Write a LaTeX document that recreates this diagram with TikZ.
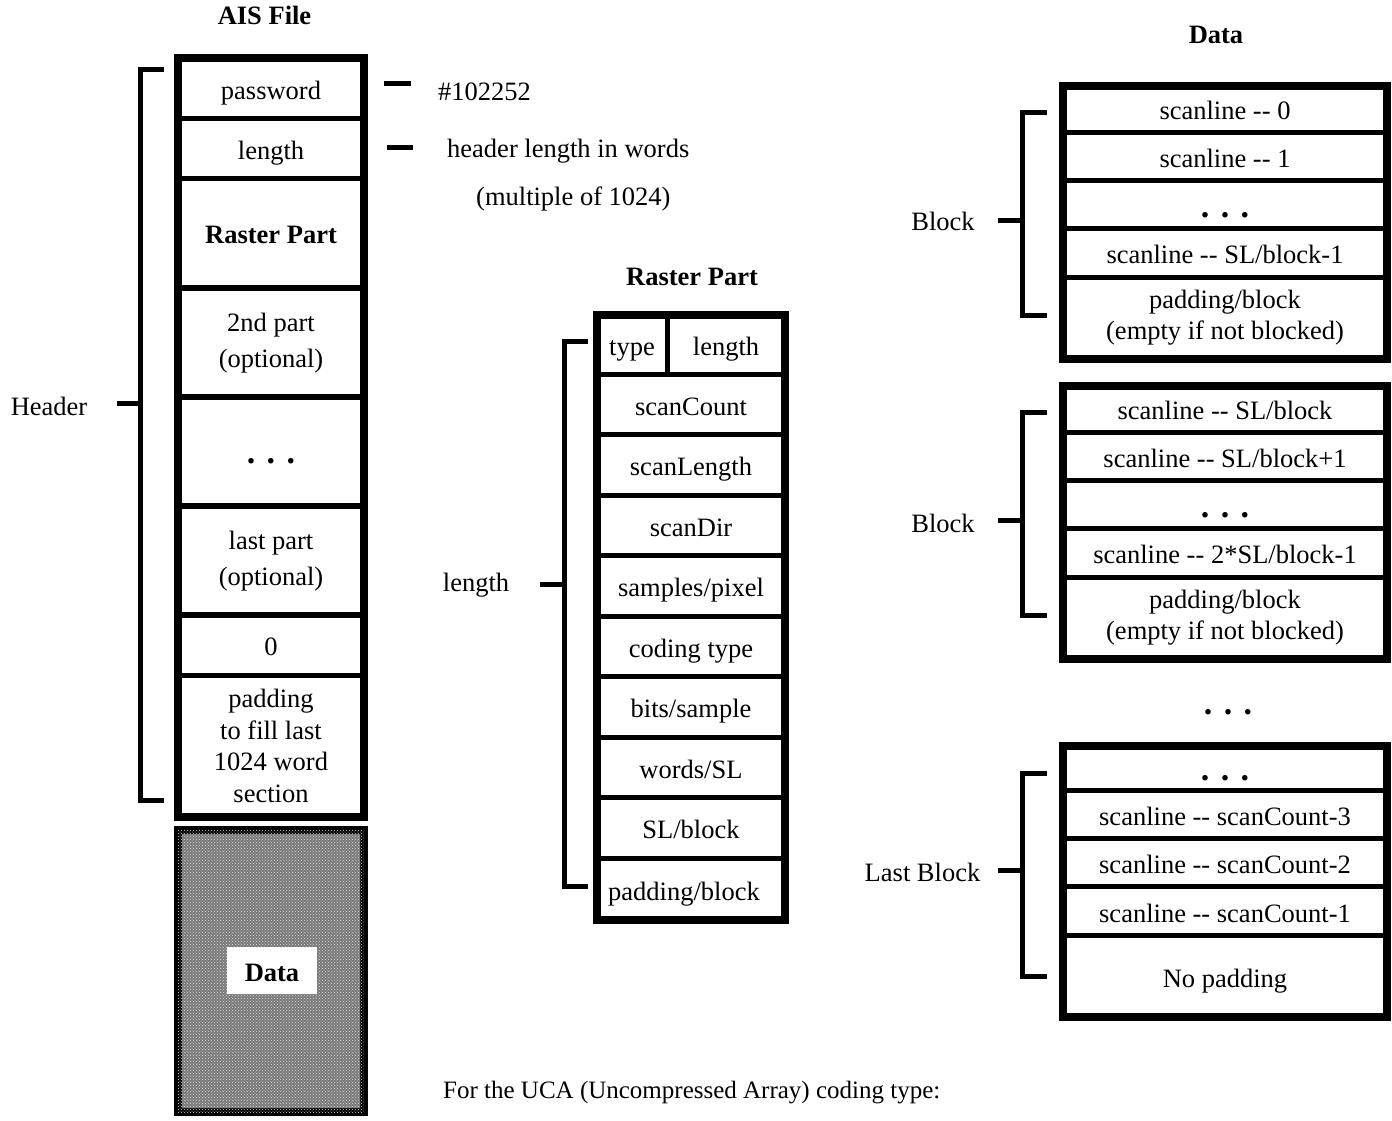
\documentclass[tikz,border=0pt]{standalone}
\usepackage{fontspec}
\setmainfont{Liberation Serif}
\usetikzlibrary{patterns}
\newcommand\mydots{{\fontsize{34}{34}\selectfont\bfseries .\hspace{11.5pt}.\hspace{11.5pt}.}}
\newcommand\dd{-{}-}
\tikzset{
  txt/.style={font=\fontsize{26.5}{32}\selectfont},
  cell/.style={draw, line width=5pt, inner sep=0pt, outer sep=0pt, align=center, txt},
  one/.style={text height=24pt, text depth=2pt},
  dotcell/.style={text height=26pt, text depth=1pt},
  frame/.style={draw, line width=8pt, inner sep=0pt, outer sep=0pt},
  brk/.style={line width=5pt},
  lbl/.style={anchor=base, inner sep=0pt, txt},
  lblw/.style={anchor=base west, inner sep=0pt, txt},
  ttl/.style={anchor=base, inner sep=0pt, font=\fontsize{26.5}{32}\selectfont\bfseries},
}
\begin{document}
\begin{tikzpicture}[x=1pt,y=-1pt]
\useasboundingbox (0,0) rectangle (1392,1120);

% ---------------- AIS file column ----------------
\node[ttl] (aistitle) at (264.5,24) {AIS File};
\node[cell, one, minimum width=186pt, minimum height=60pt] (pw) at (271,88) {password};
\node[cell, one, minimum width=186pt, minimum height=60pt] (len) at (271,148) {length};
\node[cell, one, minimum width=186pt, minimum height=109pt, font=\fontsize{26.5}{32}\selectfont\bfseries] (rp) at (271,232.5) {Raster Part};
\node[cell, minimum width=186pt, minimum height=109pt, font=\fontsize{26.5}{36}\selectfont] (p2) at (271,343) {2nd part\\(optional)};
\node[cell, dotcell, minimum width=186pt, minimum height=109pt] (pd) at (271,450.5) {\mydots};
\node[cell, minimum width=186pt, minimum height=109pt, font=\fontsize{26.5}{36}\selectfont] (pl) at (271,561) {last part\\(optional)};
\node[cell, one, minimum width=186pt, minimum height=61pt] (pz) at (271,644.5) {0};
\node[cell, minimum width=186pt, minimum height=142pt, font=\fontsize{26.5}{31.7}\selectfont] (pp) at (271,746) {padding\\to fill last\\1024 word\\section};
\node[frame, minimum width=186pt, minimum height=759pt] (ais) at (271,437.5) {};

\node[frame, fill=black!52, postaction={pattern=crosshatch dots, pattern color=white!85!black}, minimum width=186pt, minimum height=282pt] (data) at (271,971) {};
\node[fill=white, inner sep=0pt, minimum width=90pt, minimum height=47pt, text height=24pt, text depth=2pt, font=\fontsize{26.5}{32}\selectfont\bfseries] (datalbl) at (272,970.5) {Data};

% header bracket
\coordinate (h1) at (164,69);
\coordinate (h2) at (140,69);
\coordinate (h3) at (140,800);
\coordinate (h4) at (164,800);
\coordinate (ht) at (117,403.5);
\coordinate (hm) at (140,403.5);
\draw[brk] (h1) -- (h2) -- (h3) -- (h4);
\draw[brk] (ht) -- (hm);
\node[lbl] (hdr) at (49,415) {Header};

% dashes and notes
\coordinate (d1a) at (384,83.5);
\coordinate (d1b) at (411,83.5);
\coordinate (d2a) at (387,147.5);
\coordinate (d2b) at (413,147.5);
\draw[brk] (d1a) -- (d1b);
\draw[brk] (d2a) -- (d2b);
\node[lblw] (pwnote) at (438,100.5) {\#102252};
\node[lblw] (lennote) at (447,157) {header length in words};
\node[lblw] (lennote2) at (476,205) {(multiple of 1024)};

% ---------------- Raster Part ----------------
\node[ttl] (rptitle) at (692,285) {Raster Part};
\node[cell, one, minimum width=70pt, minimum height=59pt] (rtype) at (632,344.5) {type};
\node[cell, one, minimum width=118pt, minimum height=59pt] (rlen) at (726,344.5) {length};
\node[cell, one, minimum width=188pt, minimum height=60.5pt] (r1) at (691,404.25) {scanCount};
\node[cell, one, minimum width=188pt, minimum height=60.5pt] (r2) at (691,464.75) {scanLength};
\node[cell, one, minimum width=188pt, minimum height=60.5pt] (r3) at (691,525.25) {scanDir};
\node[cell, one, minimum width=188pt, minimum height=60.5pt] (r4) at (691,585.75) {samples/pixel};
\node[cell, one, minimum width=188pt, minimum height=60.5pt] (r5) at (691,646.25) {coding type};
\node[cell, one, minimum width=188pt, minimum height=60.5pt] (r6) at (691,706.75) {bits/sample};
\node[cell, one, minimum width=188pt, minimum height=60.5pt] (r7) at (691,767.25) {words/SL};
\node[cell, one, minimum width=188pt, minimum height=60.5pt] (r8) at (691,827.75) {SL/block};
\node[cell, one, minimum width=188pt, minimum height=62pt] (r9) at (691,889) {\hspace*{-14pt}padding/block};
\node[frame, minimum width=188pt, minimum height=605pt] (raster) at (691,617.5) {};

\coordinate (r1c) at (588,341);
\coordinate (r2c) at (564,341);
\coordinate (r3c) at (564,886);
\coordinate (r4c) at (588,886);
\coordinate (rtk) at (540,584);
\coordinate (rtm) at (564,584);
\draw[brk] (r1c) -- (r2c) -- (r3c) -- (r4c);
\draw[brk] (rtk) -- (rtm);
\node[lbl] (rlenlbl) at (476,591) {length};

% ---------------- Data blocks ----------------
\node[ttl] (datatitle) at (1216,43) {Data};

% block 1
\node[cell, one, minimum width=324pt, minimum height=46.5pt] (a1) at (1225,108.75) {scanline \dd{} 0};
\node[cell, one, minimum width=324pt, minimum height=48.5pt] (a2) at (1225,156.25) {scanline \dd{} 1};
\node[cell, dotcell, minimum width=324pt, minimum height=48pt] (a3) at (1225,204.5) {\mydots};
\node[cell, one, minimum width=324pt, minimum height=48.5pt] (a4) at (1225,252.75) {scanline \dd{} SL/block-1};
\node[cell, minimum width=324pt, minimum height=82pt, font=\fontsize{26.5}{31}\selectfont] (a5) at (1225,318) {padding/block\\(empty if not blocked)};
\node[frame, minimum width=324pt, minimum height=273.5pt] (blk1) at (1225,222.25) {};
\coordinate (a1c) at (1047,112.5);
\coordinate (a2c) at (1022.5,112.5);
\coordinate (a3c) at (1022.5,315.5);
\coordinate (a4c) at (1047,315.5);
\coordinate (atk) at (998,220.5);
\coordinate (atm) at (1022.5,220.5);
\draw[brk] (a1c) -- (a2c) -- (a3c) -- (a4c);
\draw[brk] (atk) -- (atm);
\node[lbl] (blk1lbl) at (943,230) {Block};

% block 2
\node[cell, one, minimum width=324pt, minimum height=46.5pt] (b1) at (1225,408.75) {scanline \dd{} SL/block};
\node[cell, one, minimum width=324pt, minimum height=48.5pt] (b2) at (1225,456.25) {scanline \dd{} SL/block+1};
\node[cell, dotcell, minimum width=324pt, minimum height=48pt] (b3) at (1225,504.5) {\mydots};
\node[cell, one, minimum width=324pt, minimum height=48.5pt] (b4) at (1225,552.75) {scanline \dd{} 2*SL/block-1};
\node[cell, minimum width=324pt, minimum height=82pt, font=\fontsize{26.5}{31}\selectfont] (b5) at (1225,618) {padding/block\\(empty if not blocked)};
\node[frame, minimum width=324pt, minimum height=273.5pt] (blk2) at (1225,522.25) {};
\coordinate (b1c) at (1047,412.5);
\coordinate (b2c) at (1022.5,412.5);
\coordinate (b3c) at (1022.5,615.5);
\coordinate (b4c) at (1047,615.5);
\coordinate (btk) at (998,520.5);
\coordinate (btm) at (1022.5,520.5);
\draw[brk] (b1c) -- (b2c) -- (b3c) -- (b4c);
\draw[brk] (btk) -- (btm);
\node[lbl] (blk2lbl) at (943,532) {Block};

\node[lbl] (middots) at (1228,714) {\mydots};

% last block
\node[cell, dotcell, minimum width=324pt, minimum height=45pt] (c1) at (1225,768) {\mydots};
\node[cell, one, minimum width=324pt, minimum height=48pt] (c2) at (1225,814.5) {scanline \dd{} scanCount-3};
\node[cell, one, minimum width=324pt, minimum height=48pt] (c3) at (1225,862.5) {scanline \dd{} scanCount-2};
\node[cell, one, minimum width=324pt, minimum height=49pt] (c4) at (1225,911) {scanline \dd{} scanCount-1};
\node[cell, one, minimum width=324pt, minimum height=81pt] (c5) at (1225,976) {No padding};
\node[frame, minimum width=324pt, minimum height=271pt] (blk3) at (1225,881) {};
\coordinate (c1c) at (1047,773.5);
\coordinate (c2c) at (1022.5,773.5);
\coordinate (c3c) at (1022.5,976);
\coordinate (c4c) at (1047,976);
\coordinate (ctk) at (998,870.5);
\coordinate (ctm) at (1022.5,870.5);
\draw[brk] (c1c) -- (c2c) -- (c3c) -- (c4c);
\draw[brk] (ctk) -- (ctm);
\node[lbl] (blk3lbl) at (922.5,881) {Last Block};

% bottom note
\node[anchor=base west, inner sep=0pt, font=\fontsize{25}{30}\selectfont] (uca) at (443,1098) {For the UCA (Uncompressed Array) coding type:};
\end{tikzpicture}
\end{document}
